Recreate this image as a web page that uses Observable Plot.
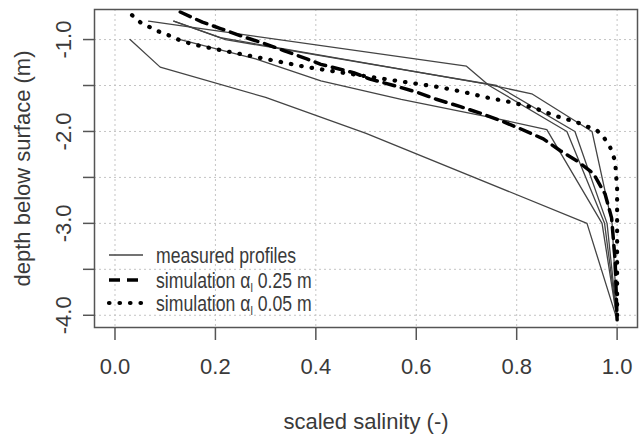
<!DOCTYPE html>
<html>
<head>
<meta charset="utf-8">
<script src="https://cdn.jsdelivr.net/npm/d3@7"></script>
<script src="https://cdn.jsdelivr.net/npm/@observablehq/plot@0.6"></script>
<style>
  html, body { margin: 0; padding: 0; background: #fff; }
  #chart { position: relative; width: 639px; height: 439px; }
</style>
</head>
<body>
<div id="chart"></div>
<script>
// ---- data ----
const xTicks = [0, 0.2, 0.4, 0.6, 0.8, 1.0];
const yTicks = [-1.0, -1.5, -2.0, -2.5, -3.0, -3.5, -4.0];
const yLabelTicks = [-1.0, -2.0, -3.0, -4.0];

const xTitle = "scaled salinity (-)";
const yTitle = "depth below surface (m)";

// measured profiles (solid)
const m1Sal   = [0.067, 0.70, 0.745, 0.90, 0.975, 1.0];
const m1Depth = [-0.80, -1.29, -1.50, -2.00, -3.00, -4.05];
const m2Sal   = [0.117, 0.21, 0.735, 0.83, 0.95, 0.99, 1.0];
const m2Depth = [-0.80, -0.98, -1.48, -1.59, -2.00, -3.00, -4.05];
const m3Sal   = [0.117, 0.22, 0.76, 0.916, 0.98, 1.0];
const m3Depth = [-0.80, -1.00, -1.50, -2.00, -3.00, -4.05];
const m4Sal   = [0.13, 0.28, 0.41, 0.57, 0.76, 0.86, 0.97, 1.0];
const m4Depth = [-1.00, -1.21, -1.45, -1.65, -1.86, -1.98, -3.00, -4.05];
const m5Sal   = [0.03, 0.09, 0.30, 0.50, 0.94, 1.0];
const m5Depth = [-1.00, -1.30, -1.63, -2.02, -3.00, -4.05];

// simulation alpha_l 0.25 m (dashed)
const s25Sal   = [0.13, 0.174, 0.21, 0.256, 0.296, 0.336, 0.382, 0.41, 0.475, 0.508, 0.555, 0.60, 0.64, 0.688, 0.727, 0.767, 0.807, 0.853, 0.887, 0.92, 0.953, 0.976, 0.989, 0.996, 1.0];
const s25Depth = [-0.70, -0.81, -0.88, -0.97, -1.04, -1.12, -1.21, -1.27, -1.36, -1.43, -1.50, -1.57, -1.65, -1.73, -1.80, -1.88, -1.97, -2.08, -2.21, -2.32, -2.46, -2.68, -2.94, -3.40, -4.05];

// simulation alpha_l 0.05 m (dotted)
const s05Sal   = [0.034, 0.051, 0.071, 0.09, 0.11, 0.13, 0.154, 0.197, 0.243, 0.29, 0.336, 0.382, 0.50, 0.60, 0.648, 0.694, 0.74, 0.787, 0.833, 0.877, 0.92, 0.96, 0.973, 0.986, 0.996, 1.0, 1.0];
const s05Depth = [-0.735, -0.815, -0.87, -0.92, -0.96, -1.01, -1.05, -1.10, -1.15, -1.20, -1.25, -1.30, -1.40, -1.48, -1.52, -1.57, -1.63, -1.68, -1.74, -1.83, -1.90, -1.99, -2.06, -2.17, -2.32, -2.62, -4.05];

const legendLabels = ["measured profiles", "simulation", "simulation"];
const legendAlphaValues = ["", "0.25 m", "0.05 m"];

// ---- build tables ----
function rows(sal, depth, id) { return sal.map((s, i) => ({sal: s, depth: depth[i], id})); }
const measured = [
  ...rows(m1Sal, m1Depth, "m1"), ...rows(m2Sal, m2Depth, "m2"), ...rows(m3Sal, m3Depth, "m3"),
  ...rows(m4Sal, m4Depth, "m4"), ...rows(m5Sal, m5Depth, "m5")
];
const sim25 = rows(s25Sal, s25Depth, "s25");
const sim05 = rows(s05Sal, s05Depth, "s05");

const font = "'Liberation Sans', Arial, sans-serif";
const textCol = "#3a3a3a";
const squeeze = 0.82;

const plot = Plot.plot({
  width: 639,
  height: 439,
  marginLeft: 94,
  marginRight: 2,
  marginTop: 9,
  marginBottom: 112,
  x: {domain: [-0.0408, 1.0406]},
  y: {domain: [-4.133, -0.673]},
  style: {background: "#fff", fontFamily: font},
  marks: [
    Plot.gridX(xTicks, {stroke: "#c4c4c4", strokeOpacity: 1, strokeDasharray: "2,3"}),
    Plot.gridY(yTicks, {stroke: "#c4c4c4", strokeOpacity: 1, strokeDasharray: "2,3"}),
    Plot.line(measured, {x: "sal", y: "depth", z: "id", stroke: "#444", strokeWidth: 1.3}),
    Plot.line(sim25, {x: "sal", y: "depth", stroke: "#000", strokeWidth: 3.5, strokeDasharray: "11,7"}),
    Plot.line(sim05, {x: "sal", y: "depth", stroke: "#000", strokeWidth: 4.2, strokeDasharray: "0.5,10", strokeLinecap: "round"}),
    Plot.frame({stroke: "#555", strokeWidth: 1.5}),
    Plot.axisX(xTicks, {tickSize: 13, tickFormat: () => "", label: null, stroke: "#555", strokeWidth: 1.5}),
    Plot.axisY(yTicks, {tickSize: 11, tickFormat: () => "", label: null, stroke: "#555", strokeWidth: 1.5}),
    Plot.text(xTicks, {x: d => d, text: d => d.toFixed(1), frameAnchor: "bottom", dy: 46, textAnchor: "middle",
      fontSize: 22, fill: textCol, ariaLabel: "hz-text"}),
    Plot.text(yLabelTicks, {y: d => d, text: d => d.toFixed(1), frameAnchor: "left", dx: -30.5, textAnchor: "middle",
      rotate: -90, fontSize: 22, fill: textCol, ariaLabel: "rot-text"}),
    Plot.text([xTitle], {text: d => d, frameAnchor: "bottom", dy: 101, textAnchor: "middle", fontSize: 22, fill: textCol, ariaLabel: "hz-text"}),
    Plot.text([yTitle], {text: d => d, frameAnchor: "left", dx: -72, textAnchor: "middle", rotate: -90, fontSize: 22, fill: textCol, ariaLabel: "rot-text"})
  ]
});

document.getElementById("chart").appendChild(plot);

const svg = d3.select(plot);
// horizontally condensed lettering, as in the reference
svg.selectAll("g[aria-label='hz-text'] text").each(function() {
  const t = this.getAttribute("transform") || "";
  this.setAttribute("transform", t + ` scale(${squeeze},1)`);
});
svg.selectAll("g[aria-label='rot-text'] text").each(function() {
  const t = this.getAttribute("transform") || "";
  this.setAttribute("transform", t + ` scale(1,${squeeze})`);
});

// ---- legend (inside the plot area, bottom-left) ----
const lg = svg.append("g").attr("font-family", font).attr("font-size", 21.5)
  .attr("fill", textCol).attr("text-anchor", "start");
const styles = [
  {stroke: "#444", width: 1.3, dash: null, cap: "butt"},
  {stroke: "#000", width: 3.5, dash: "11,7", cap: "butt"},
  {stroke: "#000", width: 4.2, dash: "0.5,10", cap: "round"}
];
const rowY = [255, 280, 303];
legendLabels.forEach((lab, i) => {
  const st = styles[i];
  const ln = lg.append("line").attr("x1", 109).attr("x2", 143).attr("y1", rowY[i]).attr("y2", rowY[i])
    .attr("stroke", st.stroke).attr("stroke-width", st.width).attr("stroke-linecap", st.cap);
  if (st.dash) ln.attr("stroke-dasharray", st.dash);
  const t = lg.append("text").attr("transform", `translate(156,${rowY[i] + 7.5}) scale(${squeeze},1)`);
  t.append("tspan").text(lab);
  if (legendAlphaValues[i]) {
    t.append("tspan").text(" α");
    t.append("tspan").attr("font-size", 13).attr("dy", 4).text("l");
    t.append("tspan").attr("dy", -4).text(" " + legendAlphaValues[i]);
  }
});
</script>
</body>
</html>
